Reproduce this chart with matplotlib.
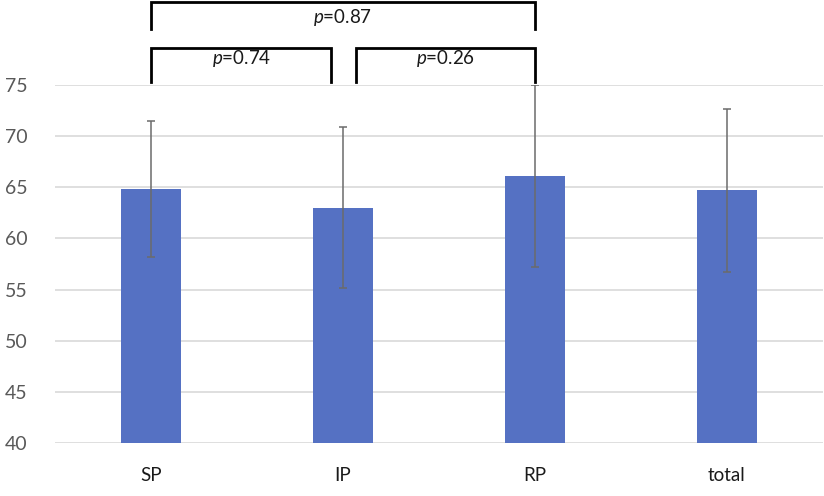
import matplotlib
matplotlib.use("Agg")
import matplotlib.pyplot as plt
import numpy as np

groups = ["SP", "IP", "RP", "total"]
means = [64.8, 63.0, 66.1, 64.7]
errors = [6.65, 7.85, 8.9, 8.0]
# (from group, to group, p label)
comparisons = [(0, 2, "0.87"), (0, 1, "0.74"), (1, 2, "0.26")]

plt.rcParams["font.family"] = ["Lato", "DejaVu Sans"]
plt.rcParams["mathtext.fontset"] = "custom"
plt.rcParams["mathtext.it"] = "Lato:italic"
plt.rcParams["mathtext.rm"] = "Lato"

fig = plt.figure(figsize=(8.24, 4.96), dpi=100)
ax = fig.add_axes([55 / 824, 1 - 443 / 496, 768 / 824, 358 / 496])

x = np.arange(len(groups))
ax.bar(x, means, width=0.315, color="#5571C3", zorder=2)
ax.errorbar(x, means, yerr=errors, fmt="none", ecolor="#6b6b6b",
            elinewidth=1.1, capsize=3, capthick=1.1, zorder=3)

ax.set_xlim(-0.5, 3.5)
ax.set_ylim(40, 75)
ax.set_yticks(np.arange(40, 76, 5))
ax.yaxis.grid(True, color="#d9d9d9", linewidth=1.2, zorder=0)
ax.set_axisbelow(True)
for s in ax.spines.values():
    s.set_visible(False)
ax.tick_params(axis="y", length=0, pad=20, labelsize=14, labelcolor="#595959")
ax.tick_params(axis="x", length=0, pad=17, labelsize=13.5, labelcolor="#1a1a1a")
ax.set_xticks(x)
ax.set_xticklabels(groups)

# significance brackets
levels = {2: (83.1, 80.5, 81.6), 1: (78.6, 75.3, 77.6)}
for a, b, p in comparisons:
    span = b - a
    top, bottom, ty = levels[span]
    x0, x1 = a, b
    if span == 1:
        x0 = a + (0.07 if a > 0 else 0.0)
        x1 = b - (0.06 if b < 2 else 0.0)
    ax.plot([x0, x0, x1, x1], [bottom, top, top, bottom], color="black",
            linewidth=2, clip_on=False, solid_joinstyle="miter")
    ax.text((x0 + x1) / 2, ty, "$p$=" + p, ha="center", va="center",
            fontsize=13.5, color="#1a1a1a", clip_on=False)

fig.savefig("out.png", dpi=100)
